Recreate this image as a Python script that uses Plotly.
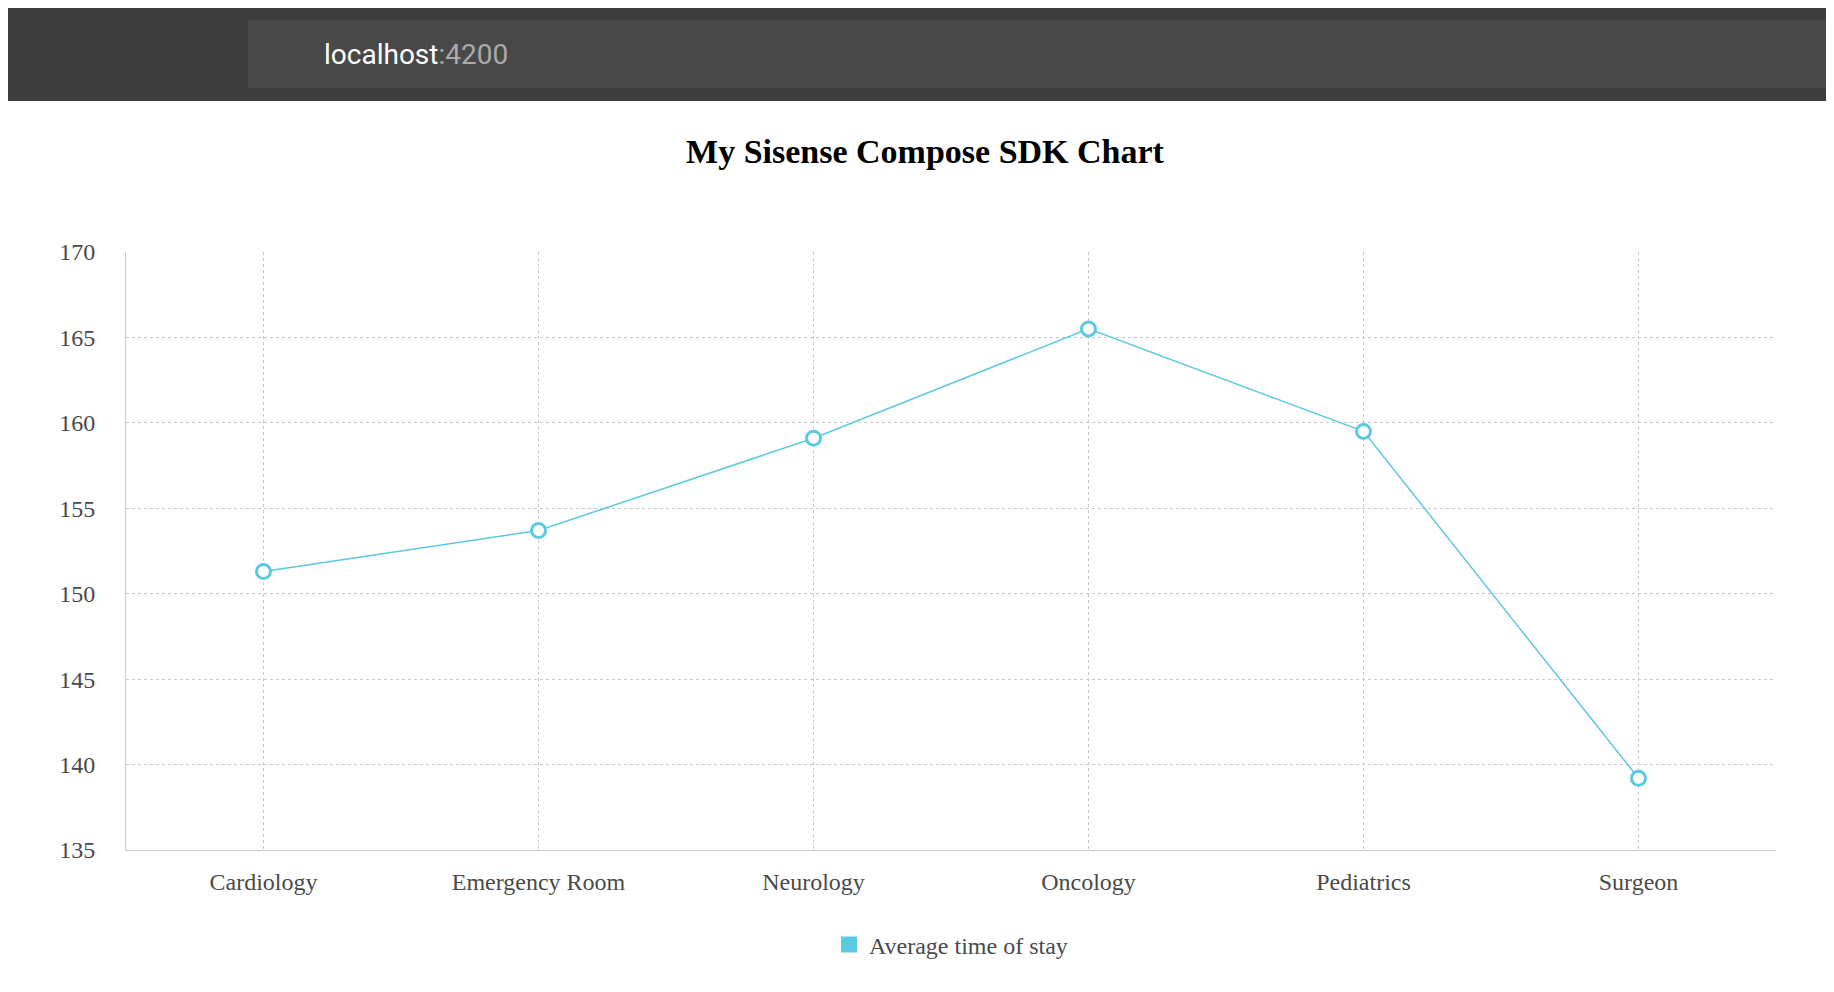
import plotly.graph_objects as go

# data
departments = ["Cardiology", "Emergency Room", "Neurology", "Oncology", "Pediatrics", "Surgeon"]
avg_stay = [151.3, 153.7, 159.1, 165.5, 159.5, 139.2]
y_ticks = [135, 140, 145, 150, 155, 160, 165, 170]

color = "#5bc9e1"
serif = "Liberation Serif, Times New Roman, serif"

W, H = 1834, 992
L, R, T, B = 118, 66, 244, 150
ph = H - T - B


def py(px):
    # pixel row from top -> paper y
    return (H - B - px) / ph


fig = go.Figure()
fig.add_trace(go.Scatter(
    x=departments, y=avg_stay, mode="lines+markers", showlegend=False,
    line=dict(color=color, width=1.5),
    marker=dict(size=14, color="white", line=dict(color=color, width=3)),
))
# legend square
fig.add_trace(go.Scatter(
    x=[None], y=[None], mode="markers", name="Average time of stay",
    marker=dict(symbol="square", size=26, color=color),
))

fig.update_layout(
    width=W, height=H,
    paper_bgcolor="white", plot_bgcolor="white",
    margin=dict(l=L, r=R, t=T, b=B),
    font=dict(family=serif, size=22, color="#4a4a4a"),
    title=dict(text="<b>My Sisense Compose SDK Chart</b>", x=0.5, y=1 - 143 / H, xanchor="center",
               yanchor="middle", font=dict(size=34, color="black", family=serif)),
    showlegend=True,
    legend=dict(orientation="h", x=0.5, xanchor="center", y=py(937), yanchor="middle",
                font=dict(size=24, color="#4a4a4a")),
    xaxis=dict(showgrid=True, gridcolor="#c8c8c8", griddash="dot", showline=True,
               linecolor="#cccccc", ticks="", tickfont=dict(size=24), range=[-0.5, 5.5],
               ticklabelstandoff=10),
    yaxis=dict(range=[135, 170], tickvals=y_ticks, showgrid=True, gridcolor="#c8c8c8",
               griddash="dot", showline=True, linecolor="#cccccc", zeroline=False,
               tickfont=dict(size=24), ticklabelstandoff=25),
    shapes=[
        dict(type="rect", xref="paper", yref="paper", x0=-L / (W - L - R), x1=1 + R / (W - L - R),
             y0=py(93), y1=py(0), fillcolor="#3c3c3c", line_width=0, layer="above"),
        dict(type="rect", xref="paper", yref="paper", x0=(240 - L) / (W - L - R),
             x1=1 + R / (W - L - R), y0=py(80), y1=py(12), fillcolor="#484848",
             line_width=0, layer="above"),
    ],
    annotations=[
        dict(text="localhost<span style='color:#aaaaaa'>:4200</span>", xref="paper", yref="paper",
             x=(314 - L) / (W - L - R), y=py(46), xanchor="left", yanchor="middle", showarrow=False,
             font=dict(family="Roboto, sans-serif", size=28, color="white")),
    ],
)

fig.write_html("out.html")
